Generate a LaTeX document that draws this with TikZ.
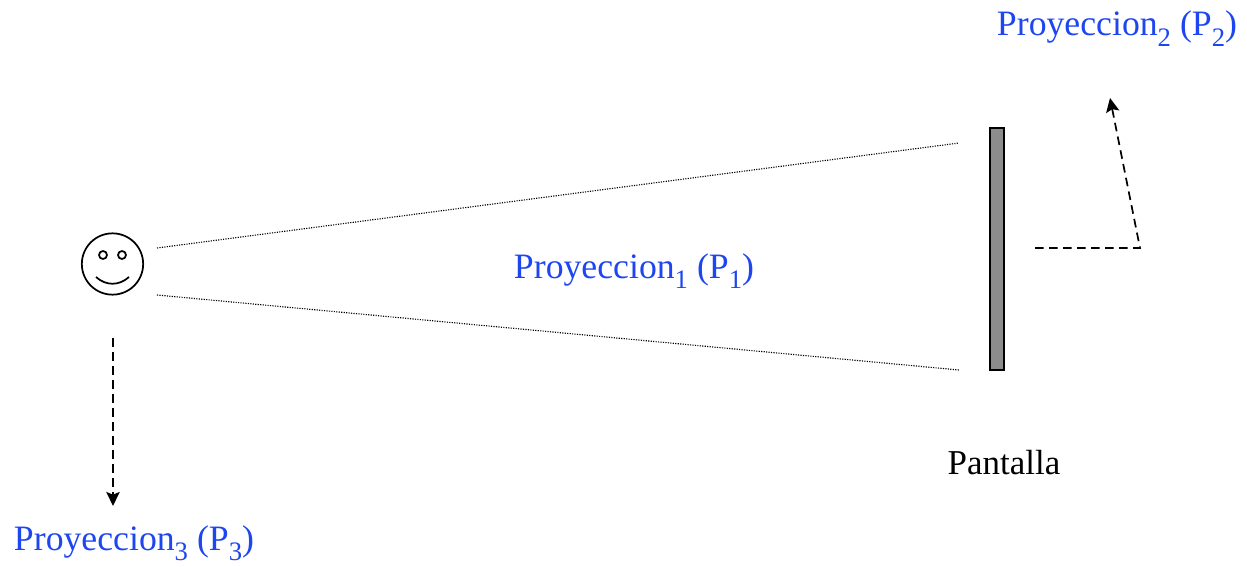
\documentclass[tikz,border=0pt]{standalone}
\usepackage{fontspec}
\setmainfont{Liberation Serif}
\usetikzlibrary{arrows.meta}
\definecolor{problue}{RGB}{30,70,240}
\newcommand{\sbs}[1]{\raisebox{-0.28em}{\fontsize{20}{20}\selectfont #1}}
\begin{document}
\begin{tikzpicture}[x=0.75pt,y=-0.75pt,
  lbl/.style={inner sep=0pt,font=\fontsize{26.2}{28}\selectfont},
  proj/.style={inner sep=0pt,font=\fontsize{26.8}{28}\selectfont,text=problue},
  ray/.style={densely dotted,line width=0.85pt},
  dashline/.style={dash pattern=on 6.5pt off 4pt,line width=1.3pt},
  tip/.style={-{Stealth[length=10.5pt,width=10pt,inset=2pt]}},
  facering/.style={circle,draw,line width=1.3pt,inner sep=0pt},
  screen/.style={draw,line width=1.3pt,fill=black!45,inner sep=0pt,minimum width=11pt,minimum height=181.5pt}]
\useasboundingbox (0,0) rectangle (1247,567);
\node[facering,minimum size=46pt] (face) at (112.5,264) {};
\node[facering,minimum size=6pt] (eyeL) at (103,255) {};
\node[facering,minimum size=6pt] (eyeR) at (122,255) {};
\coordinate (smileL) at (96,277);
\coordinate (smileR) at (129,277);
\draw[line width=1.3pt] (smileL) .. controls (106,286) and (119,286) .. (smileR);
\node[screen] (pantalla) at (997,249) {};
\coordinate (r1a) at (157,248); \coordinate (r1b) at (959,143);
\coordinate (r2a) at (157,295); \coordinate (r2b) at (959,370);
\draw[ray] (r1a) -- (r1b);
\draw[ray] (r2a) -- (r2b);
\coordinate (p2a) at (1035,248); \coordinate (p2b) at (1140,248); \coordinate (p2c) at (1110,98);
\draw[dashline,tip] (p2a) -- (p2b) -- (p2c);
\coordinate (p3a) at (113,338); \coordinate (p3b) at (113,506);
\draw[dashline,tip] (p3a) -- (p3b);
\node[proj,anchor=base] (t1) at (634,278) {Proyeccion\sbs{1} (P\sbs{1})};
\node[proj,anchor=base] (t2) at (1117,36) {Proyeccion\sbs{2} (P\sbs{2})};
\node[proj,anchor=base] (t3) at (134,550) {Proyeccion\sbs{3} (P\sbs{3})};
\node[lbl,anchor=base] (t4) at (1004,474) {Pantalla};
\end{tikzpicture}
\end{document}
